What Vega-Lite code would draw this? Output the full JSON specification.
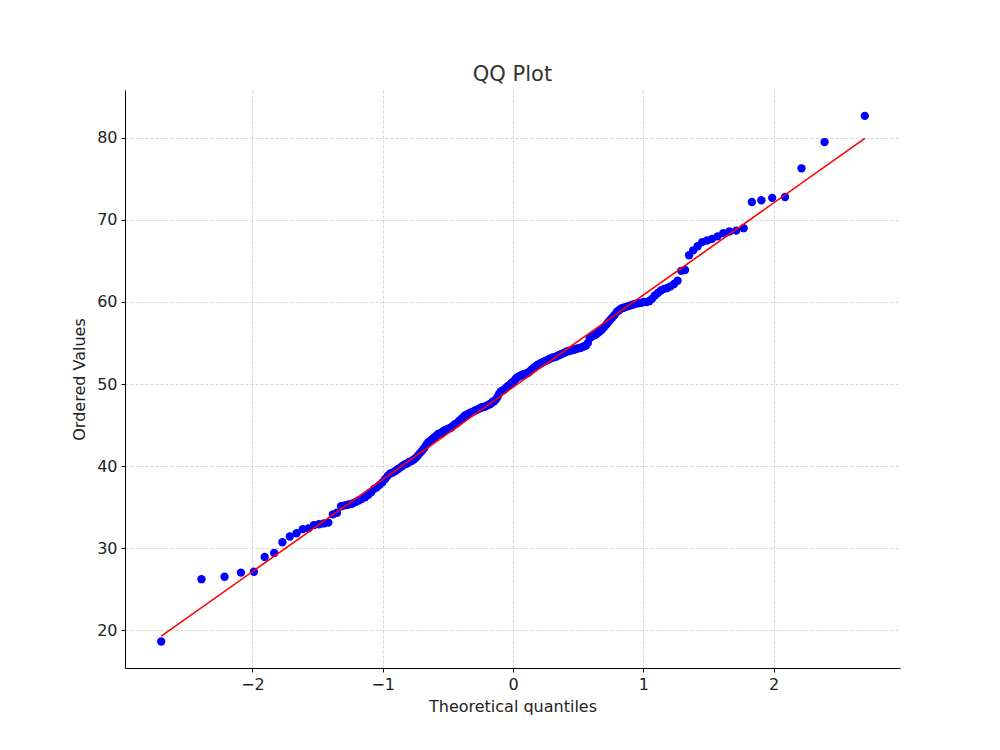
{
  "$schema": "https://vega.github.io/schema/vega-lite/v6.json",
  "autosize": "none",
  "width": 775,
  "height": 578,
  "padding": {"left": 125, "top": 90, "right": 100, "bottom": 82},
  "background": "white",
  "config": {
    "font": "DejaVu Sans",
    "view": {"stroke": null},
    "axis": {
      "labelFont": "DejaVu Sans", "titleFont": "DejaVu Sans",
      "labelFontSize": 16, "titleFontSize": 16, "labelColor": "#222", "titleColor": "#222",
      "titleFontWeight": "normal", "domainColor": "#000", "tickColor": "#000",
      "tickSize": 4, "gridColor": "#c4c4c4", "gridDash": [3, 2], "gridWidth": 0.7, "labelPadding": 4
    }
  },
  "title": {"text": "QQ Plot", "fontSize": 21, "font": "DejaVu Sans", "fontWeight": "normal", "color": "#333", "offset": 5},
  "datasets": {
    "pts": [
      {"q": -2.700, "v": 18.6}, {"q": -2.391, "v": 26.2}, {"q": -2.214, "v": 26.5}, {"q": -2.088, "v": 27.0}, {"q": -1.989, "v": 27.1},
      {"q": -1.906, "v": 28.9}, {"q": -1.833, "v": 29.4}, {"q": -1.770, "v": 30.7}, {"q": -1.713, "v": 31.4}, {"q": -1.661, "v": 31.8},
      {"q": -1.614, "v": 32.3}, {"q": -1.570, "v": 32.4}, {"q": -1.528, "v": 32.8}, {"q": -1.489, "v": 32.9}, {"q": -1.452, "v": 33.0},
      {"q": -1.417, "v": 33.1}, {"q": -1.383, "v": 34.1}, {"q": -1.351, "v": 34.3}, {"q": -1.320, "v": 35.1}, {"q": -1.291, "v": 35.2},
      {"q": -1.263, "v": 35.3}, {"q": -1.236, "v": 35.4}, {"q": -1.209, "v": 35.6}, {"q": -1.184, "v": 35.8}, {"q": -1.159, "v": 36.0},
      {"q": -1.135, "v": 36.2}, {"q": -1.111, "v": 36.5}, {"q": -1.089, "v": 36.8}, {"q": -1.067, "v": 37.2}, {"q": -1.045, "v": 37.4},
      {"q": -1.024, "v": 37.7}, {"q": -1.003, "v": 38.0}, {"q": -0.982, "v": 38.4}, {"q": -0.962, "v": 38.8}, {"q": -0.942, "v": 39.1},
      {"q": -0.923, "v": 39.2}, {"q": -0.904, "v": 39.4}, {"q": -0.885, "v": 39.6}, {"q": -0.867, "v": 39.8}, {"q": -0.849, "v": 40.0},
      {"q": -0.831, "v": 40.2}, {"q": -0.813, "v": 40.3}, {"q": -0.796, "v": 40.5}, {"q": -0.779, "v": 40.6}, {"q": -0.762, "v": 40.8},
      {"q": -0.745, "v": 41.0}, {"q": -0.729, "v": 41.3}, {"q": -0.713, "v": 41.6}, {"q": -0.697, "v": 41.9}, {"q": -0.681, "v": 42.2},
      {"q": -0.665, "v": 42.6}, {"q": -0.650, "v": 42.9}, {"q": -0.634, "v": 43.1}, {"q": -0.619, "v": 43.3}, {"q": -0.604, "v": 43.5},
      {"q": -0.589, "v": 43.7}, {"q": -0.574, "v": 43.9}, {"q": -0.560, "v": 44.0}, {"q": -0.545, "v": 44.1}, {"q": -0.531, "v": 44.3},
      {"q": -0.516, "v": 44.4}, {"q": -0.502, "v": 44.5}, {"q": -0.488, "v": 44.6}, {"q": -0.474, "v": 44.7}, {"q": -0.460, "v": 44.9},
      {"q": -0.446, "v": 45.1}, {"q": -0.432, "v": 45.2}, {"q": -0.419, "v": 45.4}, {"q": -0.405, "v": 45.6}, {"q": -0.392, "v": 45.8},
      {"q": -0.378, "v": 46.0}, {"q": -0.365, "v": 46.2}, {"q": -0.351, "v": 46.3}, {"q": -0.338, "v": 46.4}, {"q": -0.325, "v": 46.5},
      {"q": -0.312, "v": 46.6}, {"q": -0.299, "v": 46.7}, {"q": -0.286, "v": 46.8}, {"q": -0.273, "v": 46.9}, {"q": -0.260, "v": 47.0},
      {"q": -0.247, "v": 47.1}, {"q": -0.234, "v": 47.2}, {"q": -0.222, "v": 47.2}, {"q": -0.209, "v": 47.3}, {"q": -0.196, "v": 47.4},
      {"q": -0.184, "v": 47.5}, {"q": -0.171, "v": 47.6}, {"q": -0.158, "v": 47.8}, {"q": -0.146, "v": 47.9}, {"q": -0.132, "v": 48.1},
      {"q": -0.119, "v": 48.4}, {"q": -0.107, "v": 48.8}, {"q": -0.094, "v": 49.1}, {"q": -0.082, "v": 49.2}, {"q": -0.069, "v": 49.3},
      {"q": -0.056, "v": 49.5}, {"q": -0.044, "v": 49.7}, {"q": -0.031, "v": 49.8}, {"q": -0.019, "v": 50.0}, {"q": -0.006, "v": 50.2},
      {"q": 0.006, "v": 50.3}, {"q": 0.019, "v": 50.6}, {"q": 0.031, "v": 50.8}, {"q": 0.044, "v": 50.9}, {"q": 0.056, "v": 51.0},
      {"q": 0.069, "v": 51.1}, {"q": 0.082, "v": 51.2}, {"q": 0.094, "v": 51.25}, {"q": 0.107, "v": 51.3}, {"q": 0.119, "v": 51.4},
      {"q": 0.132, "v": 51.6}, {"q": 0.146, "v": 51.8}, {"q": 0.158, "v": 52.0}, {"q": 0.171, "v": 52.1}, {"q": 0.184, "v": 52.3},
      {"q": 0.196, "v": 52.4}, {"q": 0.209, "v": 52.5}, {"q": 0.222, "v": 52.6}, {"q": 0.234, "v": 52.7}, {"q": 0.247, "v": 52.8},
      {"q": 0.260, "v": 52.9}, {"q": 0.273, "v": 53.0}, {"q": 0.286, "v": 53.1}, {"q": 0.299, "v": 53.2}, {"q": 0.312, "v": 53.25},
      {"q": 0.325, "v": 53.3}, {"q": 0.338, "v": 53.4}, {"q": 0.351, "v": 53.5}, {"q": 0.365, "v": 53.6}, {"q": 0.378, "v": 53.7},
      {"q": 0.392, "v": 53.8}, {"q": 0.405, "v": 53.9}, {"q": 0.419, "v": 54.0}, {"q": 0.432, "v": 54.05}, {"q": 0.446, "v": 54.1},
      {"q": 0.460, "v": 54.15}, {"q": 0.474, "v": 54.2}, {"q": 0.488, "v": 54.3}, {"q": 0.502, "v": 54.35}, {"q": 0.516, "v": 54.4},
      {"q": 0.531, "v": 54.5}, {"q": 0.545, "v": 54.6}, {"q": 0.560, "v": 54.7}, {"q": 0.574, "v": 55.0}, {"q": 0.589, "v": 55.6},
      {"q": 0.604, "v": 55.8}, {"q": 0.619, "v": 55.9}, {"q": 0.634, "v": 56.0}, {"q": 0.650, "v": 56.2}, {"q": 0.665, "v": 56.4},
      {"q": 0.681, "v": 56.6}, {"q": 0.697, "v": 56.9}, {"q": 0.713, "v": 57.2}, {"q": 0.729, "v": 57.5}, {"q": 0.745, "v": 57.8},
      {"q": 0.762, "v": 58.1}, {"q": 0.779, "v": 58.4}, {"q": 0.796, "v": 58.8}, {"q": 0.813, "v": 59.0}, {"q": 0.831, "v": 59.2},
      {"q": 0.849, "v": 59.3}, {"q": 0.867, "v": 59.4}, {"q": 0.885, "v": 59.5}, {"q": 0.904, "v": 59.6}, {"q": 0.923, "v": 59.7},
      {"q": 0.942, "v": 59.8}, {"q": 0.962, "v": 59.85}, {"q": 0.982, "v": 59.9}, {"q": 1.003, "v": 60.0}, {"q": 1.024, "v": 60.0},
      {"q": 1.045, "v": 60.1}, {"q": 1.067, "v": 60.4}, {"q": 1.089, "v": 60.8}, {"q": 1.111, "v": 61.1}, {"q": 1.135, "v": 61.4},
      {"q": 1.159, "v": 61.6}, {"q": 1.184, "v": 61.7}, {"q": 1.209, "v": 61.9}, {"q": 1.236, "v": 62.2}, {"q": 1.263, "v": 62.6},
      {"q": 1.291, "v": 63.8}, {"q": 1.320, "v": 63.9}, {"q": 1.351, "v": 65.7}, {"q": 1.383, "v": 66.3}, {"q": 1.417, "v": 66.8},
      {"q": 1.452, "v": 67.3}, {"q": 1.489, "v": 67.5}, {"q": 1.528, "v": 67.7}, {"q": 1.570, "v": 68.0}, {"q": 1.614, "v": 68.4},
      {"q": 1.661, "v": 68.6}, {"q": 1.713, "v": 68.7}, {"q": 1.770, "v": 69.0}, {"q": 1.833, "v": 72.2}, {"q": 1.906, "v": 72.4},
      {"q": 1.989, "v": 72.7}, {"q": 2.088, "v": 72.8}, {"q": 2.214, "v": 76.3}, {"q": 2.391, "v": 79.5}, {"q": 2.700, "v": 82.7}
    ],
    "fit": [
      {"q": -2.700, "v": 19.25},
      {"q": 2.700, "v": 79.95}
    ]
  },
  "layer": [
    {
      "data": {"name": "pts"},
      "mark": {"type": "point", "filled": true, "shape": "circle", "size": 70, "color": "#0000ff", "opacity": 1},
      "encoding": {
        "x": {"field": "q", "type": "quantitative", "title": "Theoretical quantiles",
              "scale": {"domain": [-2.978, 2.97], "nice": false, "zero": false},
              "axis": {"values": [-2, -1, 0, 1, 2], "grid": true, "titlePadding": 6, "format": "d",
                       "labelExpr": "replace(datum.label, '-', '\u2212')"}},
        "y": {"field": "v", "type": "quantitative", "title": "Ordered Values",
              "scale": {"domain": [15.37, 85.85], "nice": false, "zero": false},
              "axis": {"values": [20, 30, 40, 50, 60, 70, 80], "grid": true, "titlePadding": 9}}
      }
    },
    {
      "data": {"name": "fit"},
      "mark": {"type": "line", "color": "#ff0000", "strokeWidth": 1.6},
      "encoding": {
        "x": {"field": "q", "type": "quantitative"},
        "y": {"field": "v", "type": "quantitative"}
      }
    }
  ]
}
